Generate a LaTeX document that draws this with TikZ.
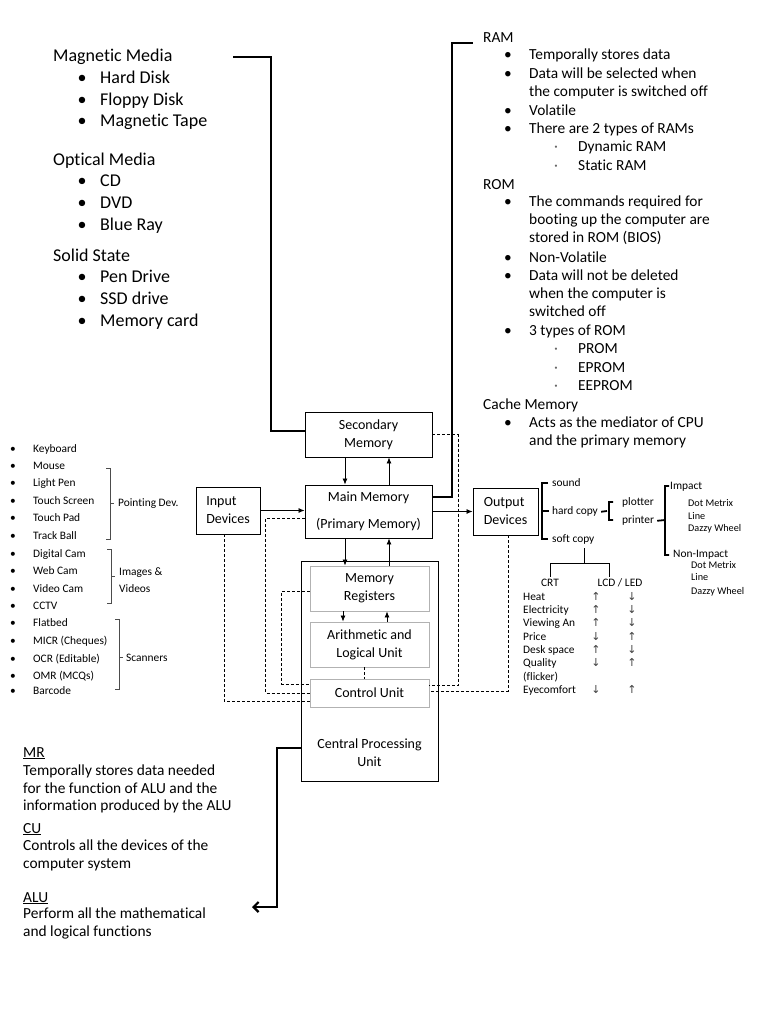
\documentclass[tikz,border=0pt]{standalone}
\usepackage{fontspec}
\setmainfont{Carlito}[Ligatures=NoCommon]
\newfontfamily\arrowfont{DejaVu Sans}
\usetikzlibrary{arrows.meta}

\tikzset{
  lbl/.style={anchor=base west, inner sep=0pt},
  textbig/.style={lbl, font=\fontsize{18}{22}\selectfont, yshift=-6pt},
  textmid/.style={lbl, font=\fontsize{15.4}{18}\selectfont, yshift=-5pt},
  textsml/.style={lbl, font=\fontsize{11.4}{14}\selectfont, yshift=-3.8pt},
  texttny/.style={lbl, font=\fontsize{10.2}{12}\selectfont, yshift=-3.4pt},
  tick/.style={lbl, anchor=base, font=\arrowfont\fontsize{11}{13}\selectfont, text=black!75, yshift=-3.8pt},
  box/.style={draw, line width=0.9pt, align=center, inner sep=0pt, font=\fontsize{14}{18}\selectfont},
  part/.style={box, draw=black!30},
  link/.style={line width=0.8pt, -{Latex[length=6pt,width=5pt]}},
  ctrl/.style={line width=0.8pt, dash pattern=on 3pt off 2pt},
  heavy/.style={line width=2.2pt},
  brace/.style={line width=0.8pt, draw=black!70},
  hbrace/.style={line width=1.8pt},
}

\begin{document}
\begin{tikzpicture}[x=1pt,y=-1pt]
  \path[fill=white, use as bounding box] (0,0) rectangle (768,1024);

  % storage media
  \node[textbig] (magm) at (53,56) {Magnetic Media};
  \node[textbig] (optm) at (53,160) {Optical Media};
  \node[textbig] (sols) at (53,255) {Solid State};
  \foreach \lab/\y [count=\i] in {Hard Disk/78, Floppy Disk/100, Magnetic Tape/121, CD/181, DVD/203, Blue Ray/225, Pen Drive/276, SSD drive/298, Memory card/320}
  { \node[textbig, anchor=base] (stb\i) at (82,\y) {•};
    \node[textbig] (sti\i) at (100,\y) {\lab}; }

  % primary memory notes
  \node[textmid] (ram) at (483,38) {RAM};
  \node[textmid] (rom) at (483,185) {ROM};
  \node[textmid] (cache) at (483,404) {Cache Memory};
  \foreach \lab/\y [count=\i] in {Temporally stores data/55, Data will be selected when/74, Volatile/111, There are 2 types of RAMs/129, The commands required for/202, Non-Volatile/257, Data will not be deleted/275, 3 types of ROM/330, Acts as the mediator of CPU/422}
  { \node[textmid, anchor=base] (mb\i) at (508,\y) {•};
    \node[textmid] (mi\i) at (529,\y) {\lab}; }
  \foreach \lab/\y [count=\i] in {the computer is switched off/92, booting up the computer are/220, stored in ROM (BIOS)/238, when the computer is/293, switched off/311, and the primary memory/440}
    \node[textmid] (mc\i) at (529,\y) {\lab};
  \foreach \lab/\y [count=\i] in {Dynamic RAM/147, Static RAM/166, PROM/348, EPROM/367, EEPROM/385}
  { \node[textmid, anchor=base, text=black!60] (md\i) at (556,\y) {·};
    \node[textmid] (ms\i) at (578,\y) {\lab}; }

  % input devices list
  \foreach \lab/\y [count=\i] in {Keyboard/449, Mouse/466, Light Pen/483, Touch Screen/501, Touch Pad/518, Track Ball/536, Digital Cam/554, Web Cam/571, Video Cam/589, CCTV/606, Flatbed/623, MICR (Cheques)/641, OCR (Editable)/659, OMR (MCQs)/676, Barcode/691}
  { \node[textsml, anchor=base] (ib\i) at (13,\y) {•};
    \node[textsml] (ii\i) at (33,\y) {\lab}; }
  \draw[brace] (106,468) -- (110,468) -- (110,539) -- (106,539) (110,503) -- (114,503);
  \node[textsml] (pdev) at (118,503) {Pointing Dev.};
  \draw[brace] (107,549) -- (111,549) -- (111,603) -- (107,603) (111,576) -- (115,576);
  \node[textsml] (imvid) at (119,572) {Images \&};
  \node[textsml] (imvid2) at (119,589) {Videos};
  \draw[brace] (115,619) -- (119,619) -- (119,689) -- (115,689) (119,657) -- (123,657);
  \node[textsml] (scan) at (126,658) {Scanners};

  % blocks
  \node[box, minimum width=127pt, minimum height=45pt] (sec) at (368.5,434.5) {Secondary\\Memory};
  \node[box, minimum width=127pt, minimum height=53pt] (main) at (368.5,511.5) {Main Memory\\[9pt](Primary Memory)};
  \node[box, minimum width=64pt, minimum height=47pt, align=left] (inp) at (228,510.5) {Input\\Devices};
  \node[box, minimum width=65pt, minimum height=47pt, align=left] (outp) at (505.5,511.5) {Output\\Devices};
  \node[box, minimum width=137pt, minimum height=220pt] (cpu) at (369.5,671) {};
  \node[part, minimum width=119pt, minimum height=45pt] (mr) at (369.5,588.5) {Memory\\Registers};
  \node[part, minimum width=119pt, minimum height=45pt] (alu) at (369.5,644.5) {Arithmetic and\\Logical Unit};
  \node[part, minimum width=119pt, minimum height=28pt] (cu) at (369.5,693) {Control Unit};
  \node[font=\fontsize{14}{18}\selectfont, align=center, inner sep=0pt] (cpulbl) at (369.5,753) {Central Processing\\Unit};

  % data flow
  \coordinate (dn) at (345,0); \coordinate (up) at (389,0);
  \coordinate (dn2) at (343,0); \coordinate (up2) at (387,0);
  \draw[link] (sec.south -| dn) -- (main.north -| dn);
  \draw[link] (main.north -| up) -- (sec.south -| up);
  \draw[link] (main.south -| dn) -- (mr.north -| dn);
  \draw[link] (mr.north -| up) -- (main.south -| up);
  \draw[link] (mr.south -| dn2) -- (alu.north -| dn2);
  \draw[link] (alu.north -| up2) -- (mr.south -| up2);
  \draw[link] (inp.east) -- (inp.east -| main.west);
  \draw[link] (main.east |- outp.west) -- (outp.west);

  % control signals
  \draw[ctrl] (sec.east) -- ++(26,0) |- ([yshift=8pt]cu.east);
  \draw[ctrl] ([xshift=3pt]outp.south) |- ([yshift=2pt]cu.east);
  \draw[ctrl] ([xshift=-4pt]inp.south) |- ([yshift=-8pt]cu.west);
  \draw[ctrl] ([yshift=-6.5pt]main.west) -- ++(-39,0) |- (cu.west);
  \draw[ctrl] ([yshift=-2.5pt]mr.west) -- ++(-28,0) |- ([yshift=9pt]cu.west);
  \draw[ctrl] ([xshift=-5.5pt]alu.south) -- ([xshift=-5.5pt]cu.north);

  % pointers to the notes
  \coordinate (media) at (233,57);
  \coordinate (notes) at (473,43);
  \coordinate (defs) at (252,907);
  \draw[heavy] ([yshift=3.5pt]sec.west) -| ([xshift=38pt]media) -- (media);
  \draw[heavy] ([yshift=14.5pt]main.east) -| ([xshift=-21pt]notes) -- (notes);
  \draw[heavy, -{Straight Barb[length=5pt,width=10pt]}] ([yshift=-77pt]cpu.west) -| ([xshift=25pt]defs) -- (defs);

  % output devices
  \node[textsml] (snd) at (552,483) {sound};
  \node[textsml] (hcp) at (552,511) {hard copy};
  \node[textsml] (scp) at (552,539) {soft copy};
  \draw[hbrace] (548,483) -- (542,483) -- (542,539) -- (548,539) (542,511) -- (549,511);
  \node[textsml] (plot) at (622,502) {plotter};
  \node[textsml] (prnt) at (622,520) {printer};
  \draw[hbrace] ([xshift=3pt]hcp.east) -- (607,511) (613,502) -- (609,502) -- (609,520) -- (613,520);
  \draw[hbrace] ([xshift=3pt]prnt.east) -- (665,520) (669,486) -- (665,486) -- (665,555) -- (669,555);
  \node[textsml] (imp) at (670,486) {Impact};
  \node[textsml] (nimp) at (673,554) {Non-Impact};
  \foreach \lab/\y [count=\i] in {Dot Metrix/503, Line/516, Dazzy Wheel/528}
    \node[texttny] (ia\i) at (688,\y) {\lab};
  \foreach \lab/\y [count=\i] in {Dot Metrix/565, Line/577, Dazzy Wheel/591}
    \node[texttny] (na\i) at (691,\y) {\lab};

  % soft copy comparison
  \node[textsml, anchor=base] (crt) at (550,583) {CRT};
  \node[textsml, anchor=base] (lcd) at (620,583) {LCD / LED};
  \coordinate (fork) at (584,563);
  \draw[line width=0.8pt] (584,548) -- (fork) (fork) -| ([yshift=2pt]crt.north) (fork) -| ([xshift=-11pt, yshift=2pt]lcd.north);
  \foreach \lab/\y/\a/\b [count=\i] in {Heat/597/↑/↓, Electricity/610/↑/↓, Viewing An/623/↑/↓, Price/637/↓/↑, Desk space/650/↑/↓, Quality/663/↓/↑, Eyecomfort/690/↓/↑}
  { \node[textsml] (tr\i) at (523,\y) {\lab};
    \node[tick] (ta\i) at (596,\y) {\a};
    \node[tick] (tb\i) at (632,\y) {\b}; }
  \node[textsml] (flick) at (523,677) {(flicker)};

  % definitions
  \node[textmid] (mrh) at (23,752) {\underline{MR}};
  \node[textmid] (cuh) at (23,828) {\underline{CU}};
  \node[textmid] (aluh) at (23,897) {\underline{ALU}};
  \foreach \lab/\y [count=\i] in {Temporally stores data needed/770, for the function of ALU and the/788, information produced by the ALU/805, Controls all the devices of the/845, computer system/863, Perform all the mathematical/913, and logical functions/931}
    \node[textmid] (dl\i) at (23,\y) {\lab};
\end{tikzpicture}
\end{document}
